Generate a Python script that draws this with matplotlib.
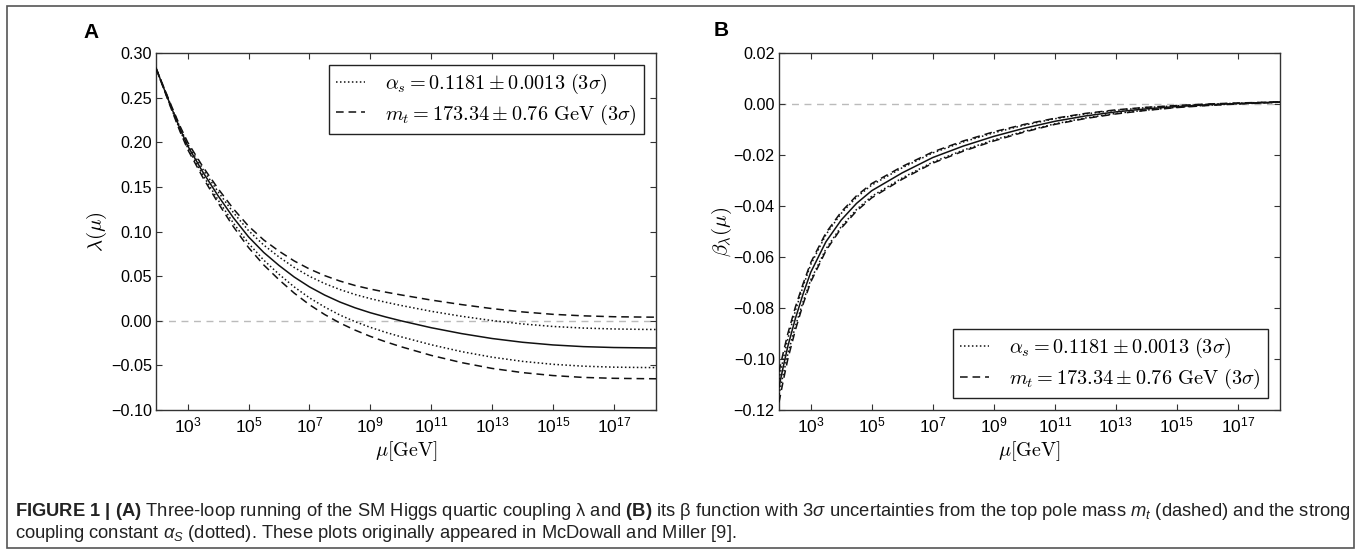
import numpy as np
import matplotlib
matplotlib.use('Agg')
import matplotlib.pyplot as plt
from matplotlib.font_manager import FontProperties
from matplotlib.patches import Rectangle
from matplotlib.ticker import FixedLocator, FixedFormatter, NullLocator

plt.rcParams['font.family'] = ['Liberation Sans', 'DejaVu Sans']
plt.rcParams['mathtext.fontset'] = 'custom'
plt.rcParams['mathtext.rm'] = 'Liberation Sans'
plt.rcParams['mathtext.it'] = 'Liberation Sans:italic'
plt.rcParams['mathtext.bf'] = 'Liberation Sans:bold'

# ---------------- data (log10 of mu in GeV) ----------------
log_mu = [1.96, 2.2, 2.5, 2.75, 3.0, 3.5, 4.0, 4.5, 5.0, 5.5, 6.0, 6.5, 7.0, 7.5, 8.0,
          8.5, 9.0, 9.5, 10.0, 11.0, 12.0, 13.0, 14.0, 15.0, 16.0, 17.0, 18.0, 18.39]

lam_central = [0.283, 0.262, 0.236, 0.215, 0.196, 0.1665, 0.140, 0.1155, 0.094, 0.0765,
               0.062, 0.049, 0.038, 0.0288, 0.021, 0.0145, 0.009, 0.0043, 0.0, -0.0078,
               -0.0144, -0.0199, -0.0241, -0.0271, -0.029, -0.030, -0.0304, -0.0305]
lam_mt_hi = [0.283, 0.263, 0.238, 0.218, 0.200, 0.1725, 0.148, 0.1255, 0.106, 0.0905,
             0.078, 0.067, 0.058, 0.0506, 0.0445, 0.0395, 0.0355, 0.0321, 0.029, 0.0232,
             0.0181, 0.0136, 0.0099, 0.0072, 0.0055, 0.0045, 0.0041, 0.0040]
lam_mt_lo = [0.283, 0.261, 0.234, 0.212, 0.192, 0.1605, 0.132, 0.1055, 0.082, 0.0625,
             0.046, 0.031, 0.018, 0.007, -0.0025, -0.0105, -0.0175, -0.0235, -0.029, -0.0388,
             -0.0469, -0.0534, -0.0581, -0.0614, -0.0635, -0.0645, -0.0649, -0.0650]
lam_as_hi = [0.283, 0.2625, 0.237, 0.2165, 0.198, 0.1697, 0.1445, 0.1213, 0.101, 0.0848,
             0.0715, 0.0597, 0.0498, 0.0417, 0.035, 0.0294, 0.0248, 0.0208, 0.0172, 0.0106,
             0.005, 0.0002, -0.0036, -0.0064, -0.0082, -0.0092, -0.0097, -0.0098]
lam_as_lo = [0.283, 0.2615, 0.235, 0.2134, 0.1939, 0.1632, 0.1353, 0.1095, 0.0867, 0.0679,
             0.0521, 0.0379, 0.0257, 0.0154, 0.0064, -0.001, -0.0074, -0.0129, -0.0179,
             -0.0269, -0.0346, -0.0408, -0.0455, -0.0488, -0.0509, -0.052, -0.0524, -0.0525]

log_mu_b = [1.96, 2.1, 2.25, 2.5, 2.75, 3.0, 3.5, 4.0, 4.5, 5.0, 6.0, 7.0, 8.0, 9.0,
            10.0, 11.0, 12.0, 13.0, 14.0, 15.0, 16.0, 17.0, 18.0, 18.39]
beta_central = [-0.111, -0.103, -0.095, -0.084, -0.0745, -0.066, -0.054, -0.0455, -0.039,
                -0.034, -0.027, -0.021, -0.0165, -0.0127, -0.0095, -0.0068, -0.0047,
                -0.0031, -0.0019, -0.0010, -0.0003, 0.0002, 0.0006, 0.0008]
beta_mt_hi = [-0.105, -0.0975, -0.090, -0.0795, -0.0705, -0.0622, -0.0505, -0.0423, -0.036,
              -0.0312, -0.0245, -0.0188, -0.0145, -0.0109, -0.008, -0.0056, -0.0037,
              -0.0023, -0.0013, -0.0006, 0.0, 0.0004, 0.0007, 0.0009]
beta_mt_lo = [-0.117, -0.1085, -0.100, -0.0885, -0.0785, -0.0698, -0.0575, -0.0487, -0.042,
              -0.0368, -0.0295, -0.0232, -0.0185, -0.0145, -0.011, -0.008, -0.0057,
              -0.0039, -0.0025, -0.0014, -0.0006, 0.0, 0.0005, 0.0007]
beta_as_hi = [-0.108, -0.100, -0.092, -0.081, -0.0715, -0.063, -0.0512, -0.0429, -0.0366,
              -0.0318, -0.025, -0.0192, -0.0149, -0.0113, -0.0083, -0.0058, -0.0039,
              -0.0025, -0.0014, -0.0007, -0.0001, 0.0003, 0.0007, 0.0009]
beta_as_lo = [-0.114, -0.106, -0.098, -0.087, -0.0775, -0.069, -0.0568, -0.0481, -0.0414,
              -0.0362, -0.029, -0.0228, -0.0181, -0.0141, -0.0107, -0.0078, -0.0055,
              -0.0037, -0.0024, -0.0013, -0.0005, 0.0001, 0.0005, 0.0007]

xtick_exps = [3, 5, 7, 9, 11, 13, 15, 17]
x_limits = (91.1876, 2.435e18)
lam_ticks = [-0.10, -0.05, 0.00, 0.05, 0.10, 0.15, 0.20, 0.25, 0.30]
beta_ticks = [-0.12, -0.10, -0.08, -0.06, -0.04, -0.02, 0.00, 0.02]

label_as = r'$\alpha_s = 0.1181 \pm 0.0013\ (3\sigma)$'
label_mt = r'$m_t = 173.34 \pm 0.76\ \mathrm{GeV}\ (3\sigma)$'

caption1 = (r'$\mathbf{FIGURE\ 1\ |\ (A)}$ Three-loop running of the SM Higgs quartic coupling λ and '
            r'$\mathbf{(B)}$ its β function with 3$\sigma$ uncertainties from the top pole mass '
            r'$m_t$ (dashed) and the strong')
caption2 = (r'coupling constant $\alpha_S$ (dotted). These plots originally appeared in '
            r'McDowall and Miller [9].')

# ---------------- figure ----------------
W, H = 1360, 554
fig = plt.figure(figsize=(W / 100, H / 100), dpi=100)

def fbox(l, t, r, b):
    return [l / W, 1 - b / H, (r - l) / W, (b - t) / H]

axA = fig.add_axes(fbox(156, 53, 656, 410))
axB = fig.add_axes(fbox(779, 53, 1280, 410))

dash_mt = (0, (5.0, 3.2))
dot_as = (0, (1.0, 1.6))
cm_legend = FontProperties(size=14.6, math_fontfamily='cm')

def fmt_tick(t):
    s = '%.2f' % abs(t)
    return ('\u2212' + s) if t < -1e-12 else s

def style(ax, ticks):
    ax.set_xscale('log')
    ax.set_xlim(*x_limits)
    ax.xaxis.set_major_locator(FixedLocator([10.0 ** e for e in xtick_exps]))
    ax.xaxis.set_major_formatter(FixedFormatter([r'$10^{%d}$' % e for e in xtick_exps]))
    ax.xaxis.set_minor_locator(NullLocator())
    ax.set_yticks(ticks)
    ax.set_yticklabels([fmt_tick(t) for t in ticks])
    ax.tick_params(axis='both', which='major', direction='in', length=4, width=0.8,
                   top=True, right=True, color='#333333')
    ax.tick_params(axis='y', labelsize=11.7, pad=3)
    ax.tick_params(axis='x', labelsize=12.5, pad=4)
    for s in ax.spines.values():
        s.set_linewidth(1.0)
        s.set_color('#333333')
    ax.axhline(0.0, color='#bbbbbb', lw=1.0, ls=(0, (5, 4)), zorder=1)
    ax.set_xlabel(r'$\mu[\mathrm{GeV}]$', fontsize=14.5, math_fontfamily='cm', labelpad=3)

# Panel A
muA = 10.0 ** np.array(log_mu)
axA.plot(muA, lam_central, color='#111111', lw=1.1, zorder=3)
axA.plot(muA, lam_as_hi, color='#111111', lw=1.1, ls=dot_as, label=label_as, zorder=3)
axA.plot(muA, lam_as_lo, color='#111111', lw=1.1, ls=dot_as, zorder=3)
axA.plot(muA, lam_mt_hi, color='#111111', lw=1.1, ls=dash_mt, label=label_mt, zorder=3)
axA.plot(muA, lam_mt_lo, color='#111111', lw=1.1, ls=dash_mt, zorder=3)
style(axA, lam_ticks)
axA.set_ylim(-0.10, 0.30)
axA.set_ylabel(r'$\lambda(\mu)$', fontsize=15, math_fontfamily='cm', labelpad=1)

# Panel B
muB = 10.0 ** np.array(log_mu_b)
axB.plot(muB, beta_central, color='#111111', lw=1.1, zorder=3)
axB.plot(muB, beta_as_hi, color='#111111', lw=1.1, ls=dot_as, label=label_as, zorder=3)
axB.plot(muB, beta_as_lo, color='#111111', lw=1.1, ls=dot_as, zorder=3)
axB.plot(muB, beta_mt_hi, color='#111111', lw=1.1, ls=dash_mt, label=label_mt, zorder=3)
axB.plot(muB, beta_mt_lo, color='#111111', lw=1.1, ls=dash_mt, zorder=3)
style(axB, beta_ticks)
axB.set_ylim(-0.12, 0.02)
axB.set_ylabel(r'$\beta_\lambda(\mu)$', fontsize=15, math_fontfamily='cm', labelpad=0)

for ax, loc in ((axA, 'upper right'), (axB, 'lower right')):
    leg = ax.legend(loc=loc, prop=cm_legend, frameon=True, fancybox=False, framealpha=1,
                    edgecolor='#222222', handlelength=1.4, handletextpad=1.0,
                    borderpad=0.35, labelspacing=0.3, borderaxespad=0.6)
    leg.get_frame().set_linewidth(1.0)

fig.text(83 / W, 1 - 33 / H, 'A', fontsize=15, fontweight='bold', va='center', ha='left')
fig.text(714 / W, 1 - 30 / H, 'B', fontsize=15, fontweight='bold', va='center', ha='left')

# outer frame
fig.patches.append(Rectangle((7 / W, 1 - 548 / H), (1354 - 7) / W, (548 - 6) / H,
                             transform=fig.transFigure, fill=False, ec='#555555', lw=1.2))

# caption
t1 = fig.text(15 / W, 1 - 511 / H, caption1, fontsize=12, va='center', ha='left', color='#222222')
t2 = fig.text(15 / W, 1 - 534 / H, caption2, fontsize=12, va='center', ha='left', color='#222222')
fig.canvas.draw()
r = fig.canvas.get_renderer()
w1 = t1.get_window_extent(r).width
fs = 12 * 1330.0 / w1
t1.set_fontsize(fs)
t2.set_fontsize(fs)

fig.savefig('out.png', dpi=100)
